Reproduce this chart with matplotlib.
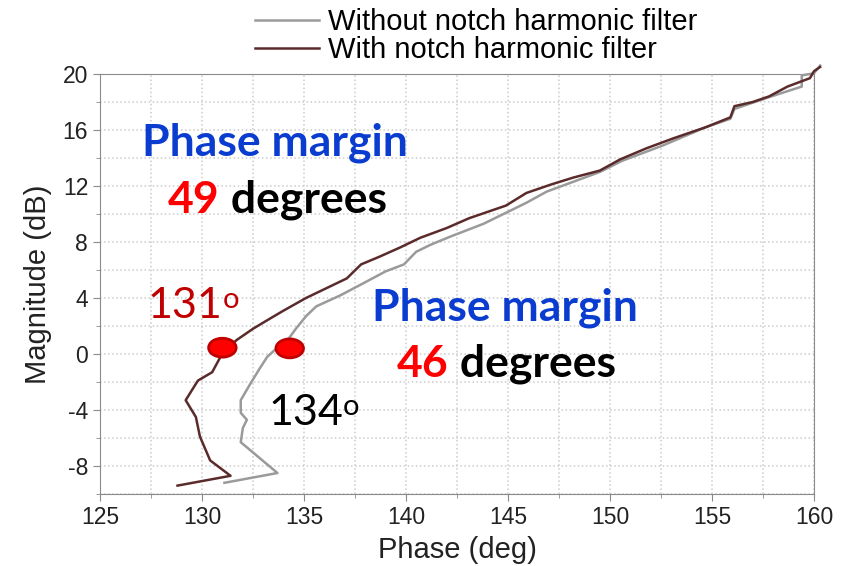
import numpy as np
import matplotlib

matplotlib.use("Agg")
import matplotlib.pyplot as plt
from matplotlib.patches import Ellipse
from matplotlib.ticker import MultipleLocator

# Bode-style magnitude vs phase curves
with_phase = [128.8, 131.4, 130.4, 129.9, 129.7, 129.2, 129.8, 130.5, 131.0, 131.7,
              132.5, 133.3, 134.0, 135.1, 136.1, 137.1, 137.8, 138.7, 139.7, 140.7,
              142.0, 143.1, 144.9, 145.9, 147.1, 148.2, 149.5, 150.5, 151.8, 153.1,
              154.7, 155.9, 156.1, 157.0, 157.8, 158.7, 159.8, 160.0, 160.3]
with_mag = [-9.4, -8.7, -7.6, -5.9, -4.5, -3.3, -1.9, -1.3, 0.05, 1.0,
            1.8, 2.5, 3.1, 4.0, 4.7, 5.4, 6.4, 6.95, 7.6, 8.3,
            9.0, 9.7, 10.6, 11.5, 12.1, 12.6, 13.1, 13.9, 14.7, 15.4,
            16.2, 16.9, 17.7, 18.0, 18.4, 19.1, 19.7, 20.2, 20.5]

without_phase = [131.1, 133.7, 131.9, 132.0, 132.2, 131.9, 131.9, 132.3, 132.8, 133.2,
                 133.8, 134.2, 134.6, 135.1, 135.6, 136.8, 138.1, 139.0, 139.9, 140.5,
                 141.2, 142.2, 143.8, 145.9, 146.9, 148.2, 149.5, 150.6, 152.6, 154.7,
                 155.9, 156.1, 157.7, 159.4, 159.4, 160.0, 160.3]
without_mag = [-9.2, -8.5, -6.3, -5.3, -4.7, -4.2, -3.3, -2.3, -1.1, -0.2,
               0.6, 1.0, 1.8, 2.7, 3.4, 4.2, 5.2, 5.9, 6.4, 7.3,
               7.8, 8.4, 9.3, 10.8, 11.6, 12.3, 13.0, 13.8, 14.9, 16.2,
               16.8, 17.5, 18.3, 19.1, 19.9, 20.05, 20.6]

# crossover points (0 dB) marked with red dots
cross_phase = [131.0, 134.3]
cross_mag = [0.45, 0.4]

labels = ["Without notch harmonic filter", "With notch harmonic filter"]

BLUE = "#0a3ccf"
RED = "#ff0000"
DARK_RED = "#c00000"

plt.rcParams["font.family"] = ["Liberation Sans", "DejaVu Sans"]
plt.rcParams["axes.unicode_minus"] = False

fig = plt.figure(figsize=(8.59, 5.66), dpi=100)
ax = fig.add_axes([0.1164, 0.1272, 0.8312, 0.7421])

ax.plot(without_phase, without_mag, color="#9a9a9a", lw=1.8, label=labels[0],
        clip_on=False, zorder=3)
ax.plot(with_phase, with_mag, color="#5b2b2b", lw=1.8, label=labels[1],
        clip_on=False, zorder=4)

for px, py in zip(cross_phase, cross_mag):
    ax.add_patch(Ellipse((px, py), 1.35, 1.35, facecolor=RED, edgecolor=DARK_RED,
                         lw=2, zorder=6))

ax.set_xlim(125, 160)
ax.set_ylim(-10, 20)
ax.xaxis.set_major_locator(MultipleLocator(5))
ax.xaxis.set_minor_locator(MultipleLocator(2.5))
ax.yaxis.set_major_locator(MultipleLocator(4))
ax.yaxis.set_minor_locator(MultipleLocator(2))
ax.grid(which="both", color="#cccccc", ls=":", lw=1.1)
ax.set_axisbelow(True)
for s in ax.spines.values():
    s.set_color("#8a8a8a")
ax.tick_params(which="both", colors="#8a8a8a", labelcolor="#222222",
               labelsize=16.5, length=5)
ax.tick_params(which="minor", length=3)

ax.set_xlabel("Phase (deg)", fontsize=21, color="#222222", labelpad=5)
ax.set_ylabel("Magnitude (dB)", fontsize=21, color="#222222", labelpad=8)

ax.legend(loc="center", bbox_to_anchor=(0.527, 1.09), frameon=False, fontsize=21,
          handlelength=2.2, handletextpad=0.3, labelspacing=0.0,
          borderpad=0)

# annotations
bold = dict(family=["Lato", "DejaVu Sans"], fontweight="bold", fontsize=32)
ax.text(127.06, 14.2, "Phase margin", color=BLUE, va="baseline", **bold)
t = ax.text(128.33, 10.1, "49", color=RED, va="baseline", **bold)
ax.annotate(" degrees", xy=(1, 0), xycoords=t, va="bottom", color="black", **bold)

ax.text(138.33, 2.4, "Phase margin", color=BLUE, va="baseline", **bold)
t = ax.text(139.56, -1.65, "46", color=RED, va="baseline", **bold)
ax.annotate(" degrees", xy=(1, 0), xycoords=t, va="bottom", color="black", **bold)

reg = dict(family=["Lato", "DejaVu Sans"], fontsize=31)
t = ax.text(127.35, 2.55, "131", color=DARK_RED, va="baseline", **reg)
ax.annotate("o", xy=(1, 1), xycoords=t, va="top", color=DARK_RED,
            family=["Lato", "DejaVu Sans"], fontsize=21)
t = ax.text(133.24, -5.1, "134", color="black", va="baseline", **reg)
ax.annotate("o", xy=(1, 1), xycoords=t, va="top", color="black",
            family=["Lato", "DejaVu Sans"], fontsize=21)

fig.savefig("out.png", dpi=100)
